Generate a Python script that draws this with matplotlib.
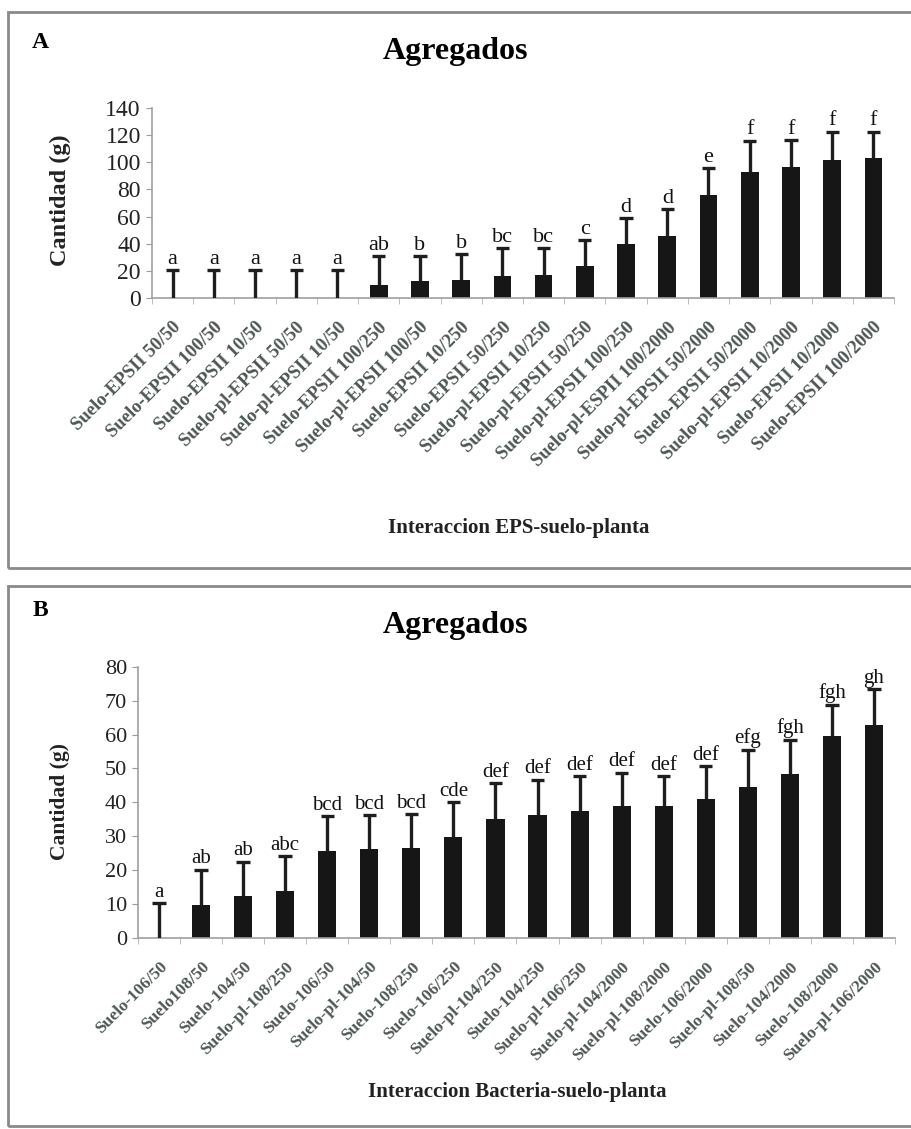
import numpy as np
import matplotlib.pyplot as plt
from matplotlib.patches import Rectangle

plt.rcParams['font.family'] = ['Liberation Serif', 'DejaVu Serif']

# Panel A: interaccion EPS-suelo-planta
eps_labels = ['Suelo-EPSII 50/50', 'Suelo-EPSII 100/50', 'Suelo-EPSII 10/50',
              'Suelo-pl-EPSII 50/50', 'Suelo-pl-EPSII 10/50', 'Suelo-EPSII 100/250',
              'Suelo-pl-EPSII 100/50', 'Suelo-EPSII 10/250', 'Suelo-EPSII 50/250',
              'Suelo-pl-EPSII 10/250', 'Suelo-pl-EPSII 50/250', 'Suelo-pl-EPSII 100/250',
              'Suelo-pl-ESPII 100/2000', 'Suelo-pl-EPSII 50/2000', 'Suelo-EPSII 50/2000',
              'Suelo-pl-EPSII 10/2000', 'Suelo-EPSII 10/2000', 'Suelo-EPSII 100/2000']
eps_mean = np.array([0, 0, 0, 0, 0, 9.8, 12.7, 13.5, 16.4, 17.1, 23.7, 39.9,
                     45.8, 75.9, 93.0, 96.2, 101.6, 102.8])
eps_sd = np.array([20.7, 20.7, 20.7, 20.7, 20.7, 20.8, 18.3, 19.0, 20.3, 19.4, 19.1, 18.9,
                   19.6, 19.6, 23.0, 20.1, 20.8, 19.6])
eps_letras = ['a', 'a', 'a', 'a', 'a', 'ab', 'b', 'b', 'bc', 'bc', 'c', 'd',
              'd', 'e', 'f', 'f', 'f', 'f']

# Panel B: interaccion bacteria-suelo-planta
bac_labels = ['Suelo-106/50', 'Suelo108/50', 'Suelo-104/50', 'Suelo-pl-108/250',
              'Suelo-106/50', 'Suelo-pl-104/50', 'Suelo-108/250', 'Suelo-106/250',
              'Suelo-pl-104/250', 'Suelo-104/250', 'Suelo-pl-106/250', 'Suelo-pl-104/2000',
              'Suelo-pl-108/2000', 'Suelo-106/2000', 'Suelo-pl-108/50', 'Suelo-104/2000',
              'Suelo-108/2000', 'Suelo-pl-106/2000']
bac_mean = np.array([0, 9.6, 12.5, 14.0, 25.6, 26.2, 26.5, 29.8, 35.2, 36.2, 37.5,
                     38.8, 38.8, 41.0, 44.5, 48.4, 59.7, 62.9])
bac_sd = np.array([10.3, 10.5, 10.0, 10.1, 10.3, 10.0, 10.0, 10.2, 10.5, 10.5, 10.2,
                   9.9, 8.9, 9.6, 11.0, 10.1, 9.1, 10.4])
bac_letras = ['a', 'ab', 'ab', 'abc', 'bcd', 'bcd', 'bcd', 'cde', 'def', 'def', 'def',
              'def', 'def', 'def', 'efg', 'fgh', 'fgh', 'gh']

W, H = 912, 1129
fig = plt.figure(figsize=(W / 100, H / 100), dpi=100)


def fx(x):
    return x / W


def fy(y):
    return 1 - y / H


# marcos grises de cada panel
for top, bot in [(12, 568), (586, 1126)]:
    fig.patches.append(Rectangle((fx(8), fy(bot)), 1.0, (bot - top) / H,
                                 transform=fig.transFigure, fill=False,
                                 edgecolor='#8a8a8a', linewidth=2))


def panel(rect, labels, mean, sd, letras, ymax, ystep, tick_fs, let_fs, lab_fs):
    ax = fig.add_axes(rect)
    x = np.arange(len(mean))
    ax.bar(x, mean, width=0.43, color='#161616', zorder=2)
    tops = mean + sd
    ax.vlines(x, mean, tops, color='#1e1e1e', linewidth=2.4, zorder=3)
    ax.hlines(tops, x - 0.16, x + 0.16, color='#1e1e1e', linewidth=2.4, zorder=3)
    for xi, t, l in zip(x, tops, letras):
        ax.annotate(l, (xi, t), xytext=(0, 1), textcoords='offset points',
                    ha='center', va='bottom', fontsize=let_fs, color='#111111')
    ax.set_xlim(-0.5, len(mean) - 0.5)
    ax.set_ylim(0, ymax)
    ax.set_yticks(np.arange(0, ymax + 1, ystep))
    ax.tick_params(axis='y', labelsize=tick_fs, length=4, color='#9a9a9a',
                   labelcolor='#222222', pad=4)
    ax.set_xticks(x)
    ax.set_xticklabels(labels, rotation=45, ha='right', rotation_mode='anchor',
                       fontsize=lab_fs, fontweight='bold', color='#4e5656')
    ax.tick_params(axis='x', which='major', length=0, pad=15)
    ax.set_xticks(np.arange(-0.5, len(mean), 1), minor=True)
    ax.tick_params(axis='x', which='minor', length=4, color='#b0b0b0')
    for s in ['top', 'right']:
        ax.spines[s].set_visible(False)
    for s in ['left', 'bottom']:
        ax.spines[s].set_color('#a0a0a0')
        ax.spines[s].set_linewidth(1.2)
    return ax


panel([fx(152), fy(298), fx(894) - fx(152), (298 - 108) / H],
      eps_labels, eps_mean, eps_sd, eps_letras, 140, 20, 17, 16, 13.5)
panel([fx(138), fy(938), fx(895) - fx(138), (938 - 666.7) / H],
      bac_labels, bac_mean, bac_sd, bac_letras, 80, 10, 16, 15, 12.5)

# titulos y etiquetas de ejes
fig.text(fx(40), fy(42), 'A', fontsize=17, fontweight='bold', ha='center', va='center')
fig.text(fx(456), fy(52), 'Agregados', fontsize=23, fontweight='bold', ha='center', va='center')
fig.text(fx(60), fy(200), 'Cantidad (g)', fontsize=17.5, fontweight='bold',
         rotation=90, ha='center', va='center', color='#222222')
fig.text(fx(519), fy(528), 'Interaccion EPS-suelo-planta', fontsize=15,
         fontweight='bold', ha='center', va='center', color='#222222')

fig.text(fx(40), fy(610), 'B', fontsize=17, fontweight='bold', ha='center', va='center')
fig.text(fx(456), fy(625), 'Agregados', fontsize=23, fontweight='bold', ha='center', va='center')
fig.text(fx(60), fy(802), 'Cantidad (g)', fontsize=15.5, fontweight='bold',
         rotation=90, ha='center', va='center', color='#222222')
fig.text(fx(517), fy(1092), 'Interaccion Bacteria-suelo-planta', fontsize=15,
         fontweight='bold', ha='center', va='center', color='#222222')

fig.savefig('out.png', dpi=100)
